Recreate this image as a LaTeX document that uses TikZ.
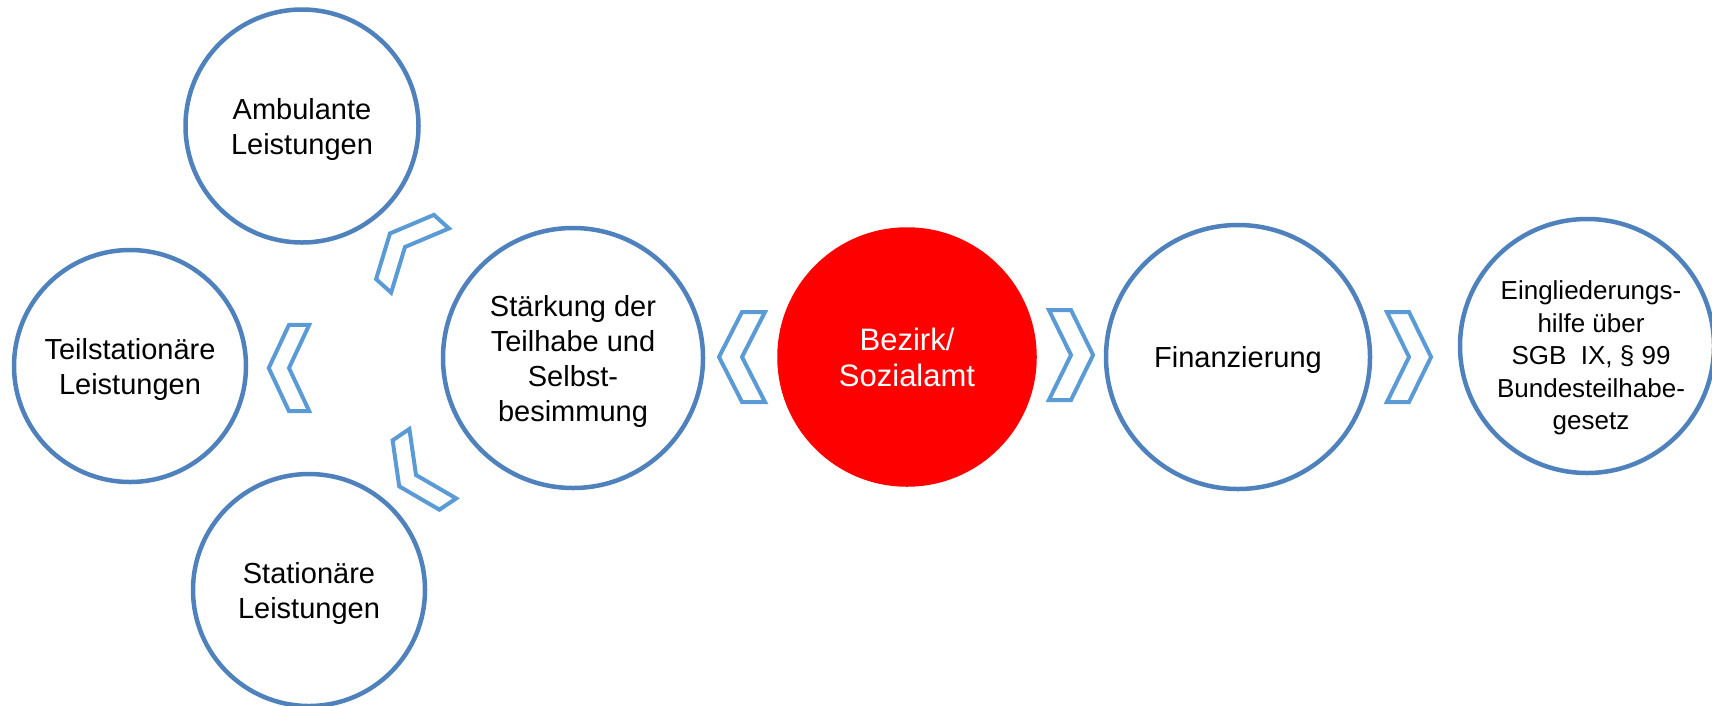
\documentclass[tikz,border=0pt]{standalone}
\usepackage{fontspec}
\setmainfont{Liberation Sans}
\usepackage{tikz}
\usetikzlibrary{calc}

\definecolor{ringblue}{HTML}{4F81BD}
\definecolor{chevblue}{HTML}{5B9BD5}

\begin{document}
\begin{tikzpicture}[x=1pt,y=-1pt,
    ring/.style={draw=ringblue,line width=4.5pt,circle,inner sep=0pt,align=center,
      text depth=0pt,font=\fontsize{29}{35}\selectfont},
    chevline/.style={draw=chevblue,line width=4pt},
    chevron/.pic={\draw[chevline] (23,-45) -- (0,-45) -- (-23,0) -- (0,45) -- (23,45) -- (0,0) -- cycle;}]
    \useasboundingbox (0,0) rectangle (1712,705);% picture frame
    % three kinds of support on the left
    \node[ring,minimum size=233pt] (amb) at (302,126) {Ambulante\\Leistungen};
    \node[ring,minimum size=232pt] (teil) at (130,366) {Teilstationäre\\Leistungen};
    \node[ring,minimum size=232pt] (stat) at (309,590) {Stationäre\\Leistungen};
    % main row
    \node[ring,minimum size=260pt] (staerk) at (573,358) {Stärkung der\\Teilhabe und\\Selbst-\\besimmung};
    \node[ring,minimum size=255pt,draw=red,fill=red,text=white,
      font=\fontsize{31}{36}\selectfont] (bez) at (907,357) {Bezirk/\\Sozialamt};
    \node[ring,minimum size=264pt] (fin) at (1238,357) {Finanzierung};
    \node[ring,minimum size=254pt] (egh) at (1587,346) {};
    \node[align=center,font=\fontsize{26}{32.5}\selectfont] (eghtext) at (1591,358)
      {Eingliederungs-\\hilfe über\\SGB~ IX, § 99\\Bundesteilhabe-\\gesetz};
    % chevrons between the circles
    \pic[rotate=-42,xscale=.88,yscale=.96] (chamb) at (405,247) {chevron};
    \pic[xscale=.88,yscale=.96] (chteil) at (289,368) {chevron};
    \pic[rotate=34,xscale=.88,yscale=.93] (chstat) at (416,475) {chevron};
    \pic (chstaerk) at (742,357) {chevron};
    \pic[rotate=180,xscale=.96] (chfin) at (1071,355) {chevron};
    \pic[rotate=180,xscale=.96] (chegh) at (1409,357) {chevron};
\end{tikzpicture}
\end{document}
